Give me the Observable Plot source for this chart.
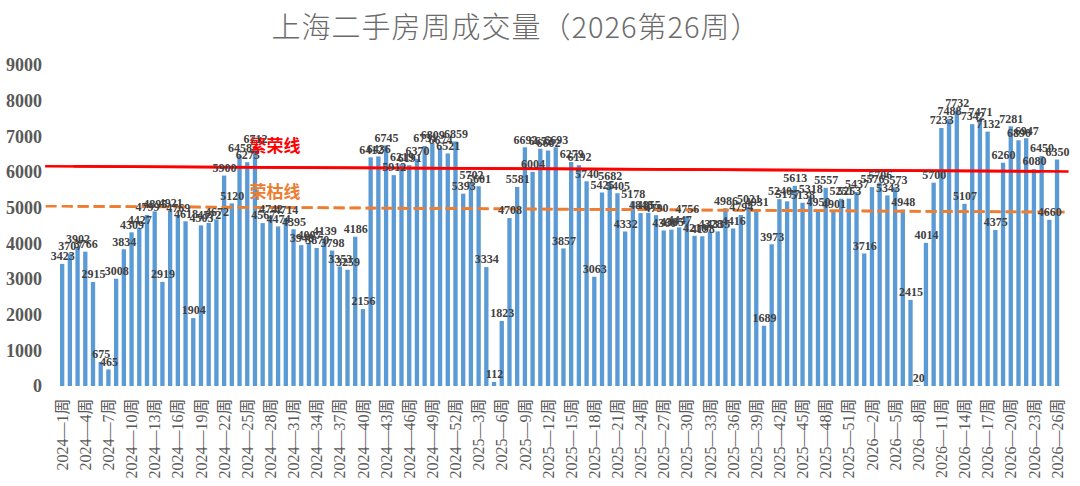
<!DOCTYPE html>
<html>
<head>
<meta charset="utf-8">
<script src="https://cdn.jsdelivr.net/npm/d3@7"></script>
<script src="https://cdn.jsdelivr.net/npm/@observablehq/plot@0.6"></script>
<style>
  html, body { margin: 0; padding: 0; background: #ffffff; }
  #wrap { position: relative; width: 1080px; height: 486px; overflow: hidden; }
  #title {
    position: absolute; left: 0; top: 4px; width: 1032px; text-align: center;
    font-family: "Noto Sans CJK SC", sans-serif; font-weight: 300;
    font-size: 29px; color: #6b6b6b; letter-spacing: 1px; z-index: 2;
  }
  #chart { position: absolute; left: 0; top: 0; }
  #chart svg text { font-family: "Liberation Serif", "Noto Sans CJK SC", serif; }
  #chart svg text.cjk { font-family: "Noto Sans CJK SC", sans-serif; }
</style>
</head>
<body>
<div id="wrap">
  <div id="title">上海二手房周成交量（2026第26周）</div>
  <div id="chart"></div>
</div>
<script>
// ---- data ----
const years = ["2024", "2025", "2026"];
const weeksPerYear = [52, 52, 26];
const values2024 = [3423, 3707, 3902, 3766, 2915, 675, 465, 3008, 3834, 4309,
  4427, 4799, 4895, 2919, 4921, 4769, 4618, 1904, 4503, 4572,
  4672, 5900, 5120, 6458, 6275, 6712, 4567, 4742, 4474, 4714,
  4395, 3948, 4007, 3870, 4139, 3798, 3353, 3259, 4186, 2156,
  6412, 6436, 6745, 5912, 6219, 6191, 6370, 6731, 6809, 6674,
  6521, 6859];
const values2025 = [5393, 5702, 5601, 3334, 112, 1823, 4708, 5581, 6692, 6004,
  6652, 6602, 6693, 3857, 6279, 6192, 5740, 3063, 5425, 5682,
  5405, 4332, 5178, 4848, 4855, 4790, 4360, 4385, 4447, 4756,
  4210, 4198, 4328, 4335, 4986, 4416, 4794, 5021, 4931, 1689,
  3973, 5240, 5177, 5613, 5138, 5318, 4950, 5557, 4901, 5251,
  5253, 5437];
const values2026 = [3716, 5576, 5706, 5343, 5573, 4948, 2415, 20, 4014, 5700,
  7233, 7488, 7732, 5107, 7342, 7471, 7132, 4375, 6260, 7281,
  6890, 6947, 6080, 6450, 4660, 6350];
const yTicks = [0, 1000, 2000, 3000, 4000, 5000, 6000, 7000, 8000, 9000];
// reference lines: value at first week, value at last week
const prosperityLine = [6175, 6030];   // 繁荣线
const boomBustLine = [5055, 4890];     // 荣枯线
const lineLabels = ["繁荣线", "荣枯线"];

// ---- build table ----
const weekLabels = [];
years.forEach((y, k) => {
  for (let w = 1; w <= weeksPerYear[k]; w++) weekLabels.push(`${y}—${w}周`);
});
const allValues = [...values2024, ...values2025, ...values2026];
const data = weekLabels.map((week, i) => ({week, value: allValues[i]}));
const tickLabels = weekLabels.filter((d, i) => i % 3 === 0);
const first = weekLabels[0], last = weekLabels[weekLabels.length - 1];
const redSeg = [{x1: first, x2: last, y1: prosperityLine[0], y2: prosperityLine[1]}];
const orangeSeg = [{x1: first, x2: last, y1: boomBustLine[0], y2: boomBustLine[1]}];
const labelRows = [
  {week: "2024—28周", value: 6740, text: lineLabels[0], color: "#ff0000"},
  {week: "2024—28周", value: 5440, text: lineLabels[1], color: "#ed7d31"}
];

const chart = Plot.plot({
  width: 1080,
  height: 486,
  marginLeft: 56.6,
  marginRight: 17.4,
  marginTop: 65,
  marginBottom: 100,
  style: {background: "transparent", overflow: "visible"},
  x: {type: "band", domain: weekLabels, padding: 0.44, axis: null},
  y: {domain: [0, 9000], axis: null},
  marks: [
    Plot.axisY({ticks: yTicks, tickFormat: d => String(d), tickSize: 0, tickPadding: 15, label: null,
      fontSize: 18, fontWeight: "bold", fill: "#595959"}),
    Plot.axisX({ticks: tickLabels, tickSize: 0, tickPadding: 12, tickRotate: -90, label: null,
      fontSize: 16, fill: "#595959"}),
    Plot.barY(data, {x: "week", y: "value", fill: "#5b9bd5"}),
    Plot.link(redSeg, {x1: "x1", x2: "x2", y1: "y1", y2: "y2", stroke: "#ff0000", strokeWidth: 2.6, dx: -17.5}),
    Plot.link(redSeg, {x1: "x1", x2: "x2", y1: "y1", y2: "y2", stroke: "#ff0000", strokeWidth: 2.6, dx: 11}),
    Plot.link(orangeSeg, {x1: "x1", x2: "x2", y1: "y1", y2: "y2", stroke: "#ed7d31", strokeWidth: 2.6,
      strokeDasharray: "11,5", dx: -17}),
    Plot.link(orangeSeg, {x1: "x1", x2: "x2", y1: "y1", y2: "y2", stroke: "#ed7d31", strokeWidth: 2.6,
      strokeDasharray: "11,5", strokeDashoffset: 9, dx: 8}),
    Plot.text(labelRows, {x: "week", y: "value", text: "text", fill: "color", dx: 4,
      fontSize: 17, fontWeight: "bold", className: "cjk"}),
    Plot.text(data, {x: "week", y: "value", text: d => String(d.value), dy: -8,
      fontSize: 12, fontWeight: "bold", fill: "#404040"})
  ]
});
document.getElementById("chart").appendChild(chart);
</script>
</body>
</html>
